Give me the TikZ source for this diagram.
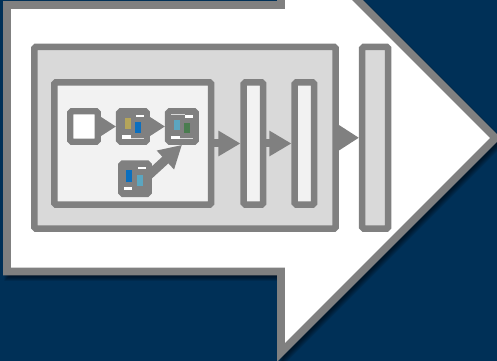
\documentclass[tikz,border=0pt]{standalone}
\usepackage{xcolor}
\usetikzlibrary{arrows.meta,positioning}
\definecolor{navy}{HTML}{003057}
\definecolor{rim}{HTML}{808080}
\definecolor{midpanel}{HTML}{D9D9D9}
\definecolor{lightpanel}{HTML}{F2F2F2}
\definecolor{ochre}{HTML}{B5A55A}
\definecolor{bluebar}{HTML}{0B6FBF}
\definecolor{tealbar}{HTML}{5BA6C0}
\definecolor{greenbar}{HTML}{4A7C4F}
\newcommand{\bigarrow}{(7,5) -- (281,5) -- (281,-76.5) -- (495.5,138) -- (281,352.5) -- (281,271.5) -- (7,271.5) -- cycle}
\tikzset{
  panelbox/.style={
    rectangle,rounded corners=1pt,draw=rim,line width=0.13cm,
    inner sep=0pt,minimum height=3.64cm
  },
  innerbox/.style={panelbox,fill=lightpanel,minimum height=2.45cm},
  smallbox/.style={
    rectangle,rounded corners=1pt,draw=rim,fill=rim,line width=0.125cm,
    inner sep=0pt,minimum width=0.555cm,minimum height=0.61cm
  },
  flow/.style={-{Triangle[length=0.3cm,width=0.36cm]},line width=0.16cm,draw=rim},
  bigflow/.style={flow,-{Triangle[length=0.44cm,width=0.48cm]}},
  mark line/.style={draw=white!70!rim,line width=0.5pt}
}
\begin{document}
\begin{tikzpicture}[x=0.02cm,y=-0.02cm]
  \clip (0,0) rectangle (497,361);
  \fill[navy] (0,0) rectangle (497,361);
  % soft shadow
  \foreach \w in {1,3,...,11}
    \draw[black,opacity=0.11,line width=\w*0.02cm,xshift=0.06cm,yshift=-0.08cm] \bigarrow;
  \draw[rim,fill=white,line width=0.155cm] \bigarrow;

  \node[panelbox,fill=midpanel,minimum width=6.03cm] (panel) at (185,137.75) {};
  \node[innerbox,minimum width=3.14cm] (inner) at (132.75,143.5) {};
  \node[innerbox,minimum width=0.39cm,right=0.52cm of inner] (barone) {};
  \node[innerbox,minimum width=0.39cm,right=0.5cm of barone] (bartwo) {};
  \node[panelbox,fill=midpanel,minimum width=0.52cm,right=0.4cm of panel] (barout) {};

  \node[smallbox,fill=white] (input) at (84,126.5) {};
  \node[smallbox,right=0.3cm of input] (stepa) {};
  \node[smallbox,right=0.3cm of stepa] (stepb) {};
  \node[smallbox] (stepc) at (135,178.7) {};
  \coordinate (stepcout) at (149,175);

  % marks inside stepa
  \fill[ochre] (124.7,118) rectangle (130.6,129);
  \fill[bluebar] (135.4,122) rectangle (141.3,133);
  \fill[white] (136,114.8) rectangle (144,117.2);
  \fill[white] (121.7,134.7) rectangle (131,139.3);
  \draw[mark line] (131,138) -- (144,138);
  % marks inside stepb
  \fill[tealbar] (174.4,119.7) rectangle (179.6,130);
  \fill[greenbar] (184.4,122.7) rectangle (190.3,133.3);
  \fill[white] (185,114.8) rectangle (193,117.7);
  \fill[white] (171,135.7) rectangle (180.3,139);
  \draw[mark line] (171,114) -- (185,114);
  \draw[mark line] (180.3,138) -- (193,138);
  % marks inside stepc
  \fill[bluebar] (126.4,170.3) rectangle (132.3,181.7);
  \fill[tealbar] (136.8,175) rectangle (142.9,186);
  \fill[white] (137.7,166.8) rectangle (146,169.5);
  \fill[white] (124,186.8) rectangle (132.3,190.5);

  \draw[flow] (input) -- (stepa);
  \draw[flow] (stepa) -- (stepb);
  \draw[flow,line width=0.18cm,-{Triangle[length=0.45cm,width=0.48cm]}] (stepcout) -- (stepb.south);
  \draw[bigflow] (inner) -- (barone);
  \draw[bigflow] (barone) -- (bartwo);
  \draw[bigflow,-{Triangle[length=0.4cm,width=0.48cm]}] (panel) -- (barout);
\end{tikzpicture}
\end{document}
